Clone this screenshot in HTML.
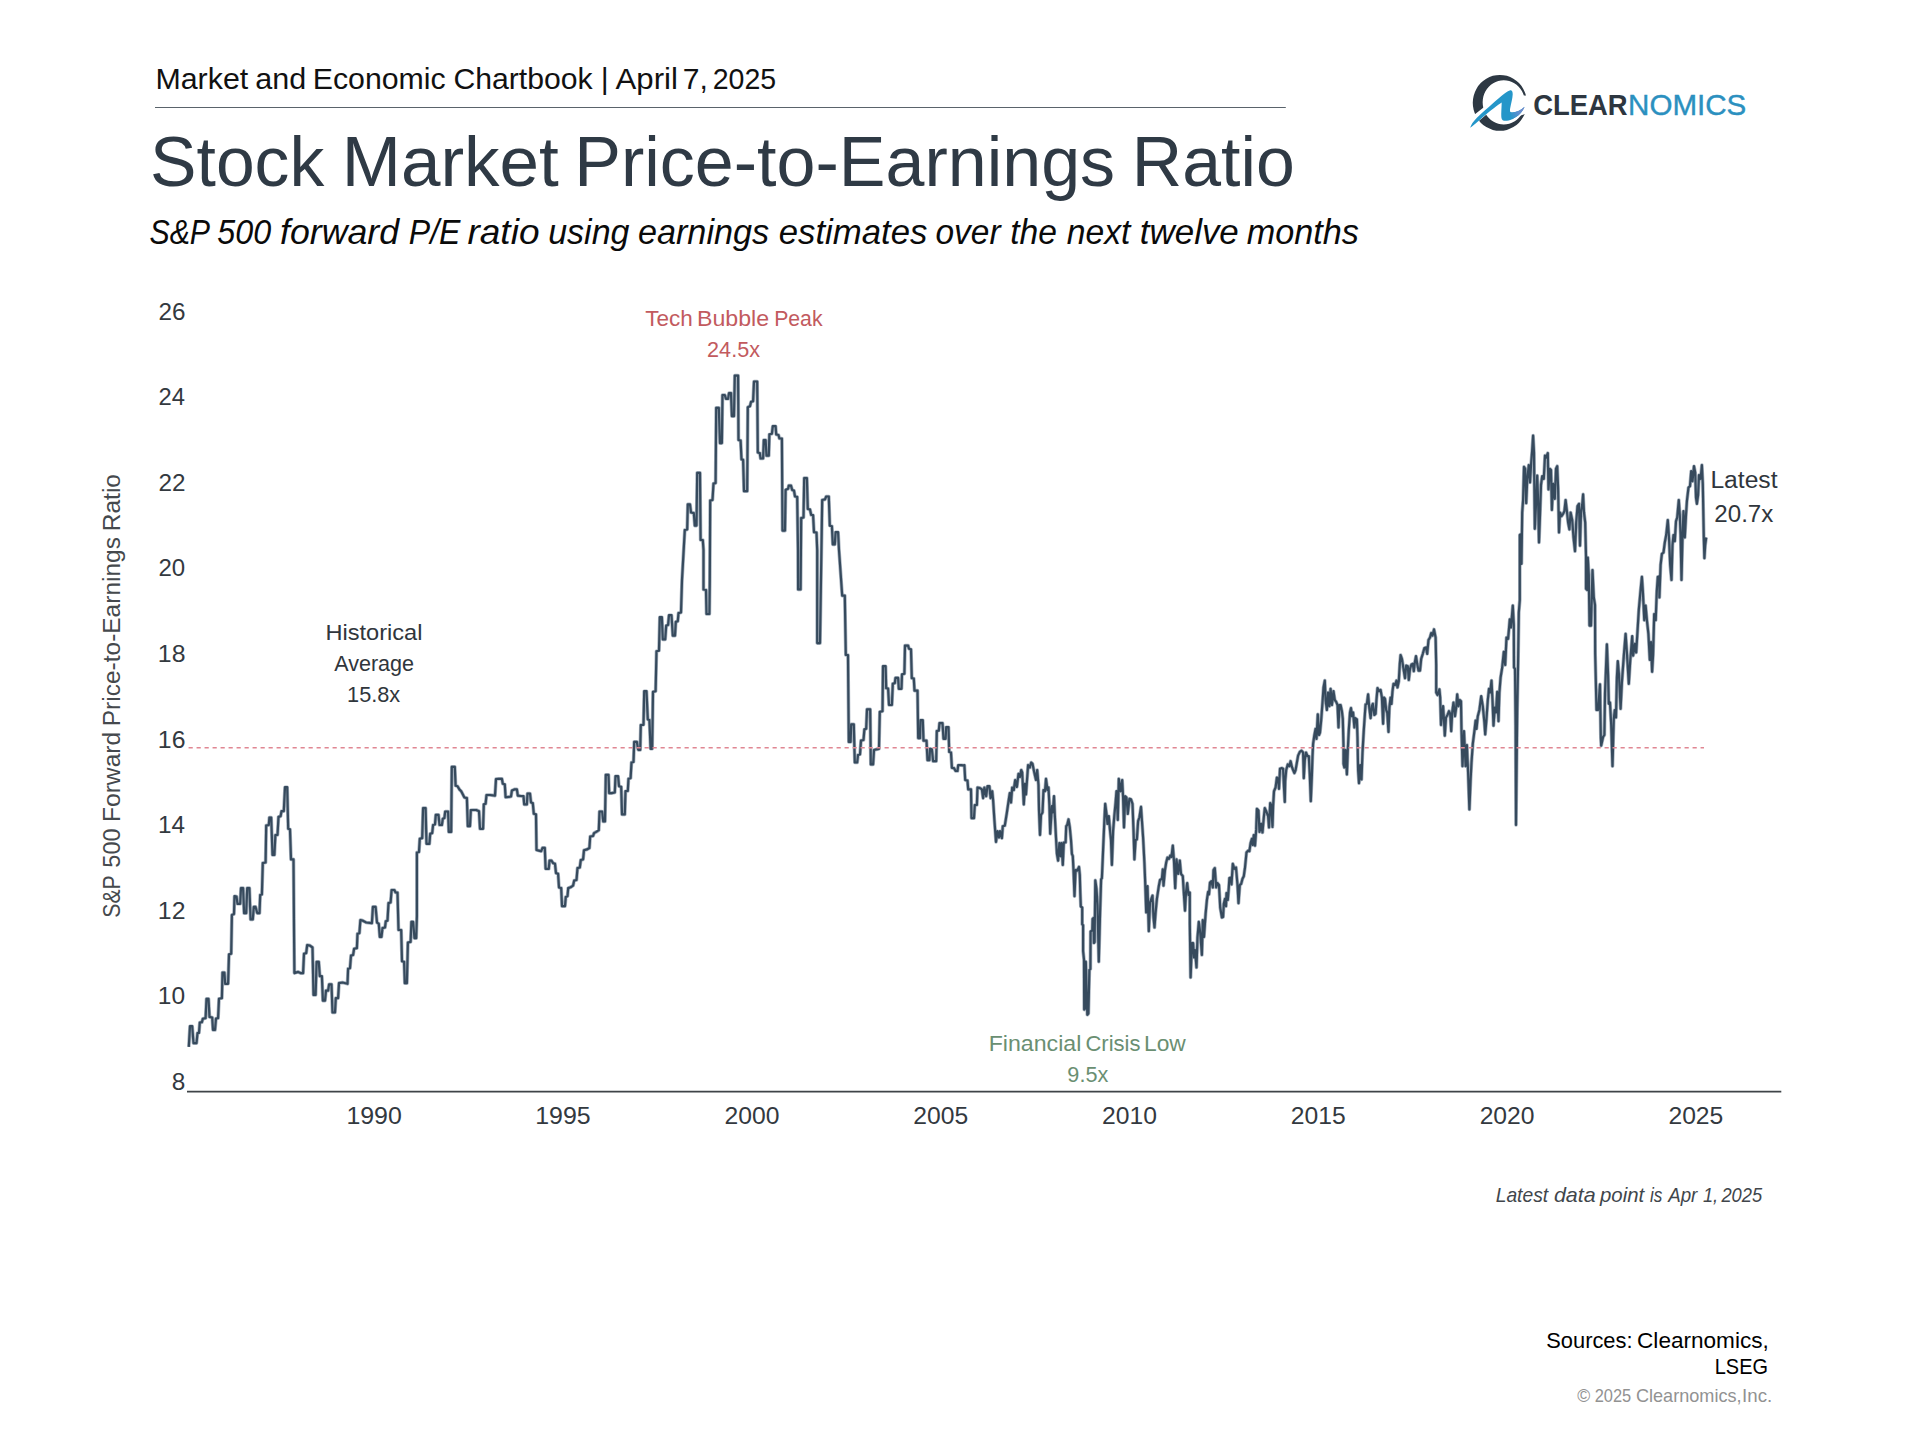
<!DOCTYPE html>
<html lang="en">
<head>
<meta charset="utf-8">
<title>Stock Market Price-to-Earnings Ratio</title>
<style>
html,body{margin:0;padding:0;background:#ffffff;}
body{width:1920px;height:1440px;overflow:hidden;position:relative;font-family:'Liberation Sans', sans-serif;}
svg{position:absolute;left:0;top:0;display:block;}
svg text{font-family:'Liberation Sans', sans-serif;white-space:pre;}
</style>
</head>
<body>
<svg width="1920" height="1440" viewBox="0 0 1920 1440">
<rect x="0" y="0" width="1920" height="1440" fill="#ffffff"/>
<!-- header rule -->
<line x1="155" y1="107.5" x2="1285.8" y2="107.5" stroke="#5a636b" stroke-width="1"/>
<!-- logo -->
<g transform="translate(1460,65) scale(0.0520833)">
<defs>
<linearGradient id="lg1" gradientUnits="userSpaceOnUse" x1="950" y1="950" x2="1240" y2="820"><stop offset="0" stop-color="#2496c9"/><stop offset="0.55" stop-color="#5f8fd0"/><stop offset="1" stop-color="#7c86c8"/></linearGradient>
<clipPath id="lc1"><path d="M0,0 H1536 V1440 H0 Z M120,1075 L470,800 L560,905 L200,1210 Z M1200,588 L1536,580 L1536,845 L1150,973 Z" clip-rule="evenodd"/></clipPath>
</defs>
<path fill="#2d3843" fill-rule="evenodd" clip-path="url(#lc1)" d="M765,190 A520,537 0 1 0 765.1,190 Z M840,292 A405,425 0 1 1 839.9,292 Z"/>
<path fill="#2496c9" d="M195,1205 C215,1150 250,1090 320,1020 C450,890 640,730 800,590 C860,540 910,500 955,488 C995,478 1012,510 1012,560 C1010,640 975,760 960,850 C955,895 965,910 1000,912 C1080,905 1160,870 1240,800 C1200,900 1120,985 1000,1040 C930,1070 860,1085 820,1060 C795,1040 792,1000 792,940 C794,860 800,780 800,720 C740,760 560,890 440,1000 C340,1090 250,1170 195,1205 Z"/>
<path fill="url(#lg1)" d="M965,905 C975,912 985,913 1000,912 C1080,905 1160,870 1240,800 C1200,900 1120,985 1000,1040 C980,1000 965,950 965,905 Z"/>
</g>

<!-- x axis -->
<line x1="187" y1="1091.6" x2="1781.3" y2="1091.6" stroke="#3f4448" stroke-width="1.6"/>
<!-- data line -->
<polyline fill="none" stroke="#4f667e" stroke-opacity="0.5" stroke-width="3.6" stroke-linejoin="round" points="188.8,1046.9 190.0,1026.2 192.2,1026.2 193.5,1043.1 196.5,1043.1 197.5,1033.1 199.0,1032.8 199.8,1022.5 201.9,1022.2 202.8,1018.8 205.6,1018.1 206.5,998.8 208.5,998.8 209.5,1016.9 212.2,1017.5 213.0,1030.0 215.0,1030.0 216.0,1018.5 218.1,1018.1 219.0,998.8 221.9,998.1 222.5,972.5 224.4,972.5 225.2,983.8 228.1,983.8 229.0,954.4 231.2,953.8 231.9,915.0 234.0,914.0 234.5,896.2 234.8,896.2 236.5,896.5 237.5,903.8 240.2,903.8 241.0,888.1 243.1,888.1 244.1,913.1 246.2,913.1 247.2,888.1 249.4,888.1 250.6,919.4 252.8,919.4 253.8,906.9 255.6,906.9 257.2,913.1 259.5,913.1 260.2,895.0 261.9,894.4 262.8,863.1 265.6,862.5 266.2,825.6 268.8,825.0 269.4,817.5 271.2,817.5 272.5,855.0 274.4,855.0 275.4,835.0 277.5,835.0 278.5,816.9 280.6,816.2 281.5,811.2 283.8,811.2 285.0,787.2 287.2,787.2 288.2,828.8 290.0,829.4 291.0,859.4 293.5,859.4 294.1,940.0 294.4,973.1 298.1,971.9 300.6,973.1 303.1,973.1 304.0,953.8 306.2,953.1 307.2,945.0 310.0,945.6 312.5,947.5 313.5,995.0 315.6,995.0 316.6,961.9 318.8,961.9 319.8,976.2 321.9,976.2 322.9,1000.6 325.0,1000.6 326.0,990.6 328.1,990.6 329.1,984.4 331.5,984.4 332.5,1012.5 335.0,1012.5 335.8,998.1 338.1,998.1 339.0,983.1 342.5,982.5 347.5,983.8 348.1,968.8 350.0,968.1 351.0,955.6 353.1,955.0 354.1,948.8 356.9,948.1 357.5,933.8 359.4,933.1 360.4,920.0 362.5,920.6 366.2,922.5 371.9,923.1 372.9,906.9 375.6,906.9 377.0,922.5 378.8,923.8 379.8,936.9 381.5,936.9 382.5,928.1 385.0,927.5 385.8,921.2 387.5,920.6 388.5,903.1 390.6,902.5 391.6,890.0 394.4,890.0 395.6,892.5 397.5,892.5 398.5,930.0 401.2,930.0 402.0,961.2 404.1,961.9 404.8,983.1 406.9,983.1 407.9,942.5 410.6,941.9 411.4,921.9 413.1,921.9 414.5,938.1 416.2,938.1 416.9,916.2 416.9,852.5 419.0,851.9 419.8,838.8 422.2,838.1 423.1,808.1 425.6,808.1 426.5,843.8 429.4,843.8 430.2,833.8 432.2,833.1 433.1,825.0 435.0,824.4 435.8,814.8 438.5,814.8 439.5,825.0 441.9,825.0 442.8,818.8 444.4,818.1 445.2,811.5 448.1,811.5 448.8,831.9 451.2,831.9 451.8,766.9 454.8,766.9 455.6,785.6 457.5,786.2 459.4,789.4 461.2,791.2 462.5,793.8 464.4,797.5 466.9,798.1 467.8,826.2 470.0,826.2 470.8,810.2 473.1,810.0 476.2,810.0 479.0,811.2 480.0,828.8 483.1,828.8 483.8,804.4 485.6,803.8 486.5,795.0 490.0,795.0 495.0,795.6 496.0,779.0 498.8,778.8 501.9,778.8 502.8,783.8 504.8,784.4 505.6,797.2 508.8,796.9 511.0,796.5 511.9,790.6 514.4,789.4 516.9,789.4 517.8,795.6 520.6,796.0 523.5,796.2 524.2,804.4 526.9,804.4 527.5,793.5 530.0,793.5 531.0,802.5 532.8,803.1 533.8,813.8 536.0,814.4 536.5,850.0 538.8,850.6 541.2,851.2 542.5,847.8 544.8,847.8 545.6,868.8 548.8,868.8 549.5,860.6 551.5,860.6 553.1,863.1 555.0,863.8 556.0,873.1 558.1,873.8 559.0,887.5 561.2,888.1 562.0,906.2 565.0,906.2 565.8,896.9 567.5,896.2 568.2,888.1 570.6,887.2 573.1,885.6 574.2,880.6 576.5,880.0 577.5,868.1 579.8,867.5 580.8,860.0 583.1,859.4 584.0,850.2 586.9,849.4 589.4,848.1 590.2,836.5 593.1,836.0 594.0,833.1 596.2,831.9 598.8,830.2 599.5,811.5 602.2,811.5 603.2,821.5 605.0,821.5 605.8,774.8 608.5,774.8 609.2,793.1 611.9,793.1 614.8,792.5 615.5,776.2 618.1,776.2 619.0,786.2 621.2,786.9 622.0,814.4 624.8,814.4 625.5,791.2 627.8,791.0 628.5,778.8 630.6,778.1 631.5,762.5 633.5,761.9 634.2,741.9 636.9,741.9 638.1,749.4 638.5,750.0 640.2,750.0 640.8,725.0 643.5,724.8 644.2,691.2 646.5,691.2 647.8,719.4 649.4,720.0 650.6,748.8 652.2,748.8 653.0,691.9 655.6,691.2 656.5,651.2 659.0,650.6 659.8,617.2 661.9,617.2 662.8,639.4 665.2,639.4 666.2,625.6 668.1,625.0 669.0,615.2 671.5,615.2 672.8,635.6 675.0,635.6 675.8,621.9 677.8,621.2 678.5,613.1 681.0,612.5 682.0,580.0 684.8,530.0 687.2,529.4 687.8,504.4 690.0,504.4 691.0,512.5 693.8,513.1 694.8,525.6 696.5,525.6 697.2,472.8 700.0,472.8 700.6,540.0 702.8,540.0 703.5,550.0 703.5,589.4 706.0,590.0 706.5,614.0 709.4,614.0 709.8,580.0 710.2,500.6 712.5,500.0 713.5,483.5 715.6,483.1 716.2,407.8 718.8,407.8 720.0,443.1 721.9,443.1 722.5,395.0 724.8,395.0 726.0,398.8 728.1,398.8 729.0,393.1 731.0,393.1 731.9,416.2 734.0,416.2 734.8,375.6 738.1,375.6 738.5,440.0 740.6,440.6 741.5,459.4 743.1,459.8 744.0,491.2 747.2,491.2 747.8,407.2 750.0,406.2 751.0,401.9 753.1,401.2 754.0,381.5 757.2,381.5 757.8,452.5 759.8,453.1 760.6,458.5 763.1,458.5 763.8,440.0 765.6,440.0 766.5,455.6 768.8,455.6 769.4,434.4 771.9,433.8 772.8,426.2 775.6,426.2 776.2,434.4 778.5,435.0 779.4,438.5 781.9,438.5 782.5,530.6 785.0,530.6 785.6,489.8 788.1,488.8 788.8,485.6 791.0,485.6 792.2,490.0 794.0,490.6 795.0,496.5 797.2,496.9 798.0,550.0 798.1,589.4 800.6,589.4 801.2,518.1 803.5,517.5 804.2,478.1 806.9,478.1 807.8,509.0 810.0,509.4 811.2,515.0 813.1,515.2 814.0,532.2 816.5,532.5 817.2,550.0 817.2,643.1 820.0,643.1 822.2,500.0 825.0,499.4 826.2,496.5 828.8,496.5 829.8,525.6 831.9,526.2 832.8,544.4 834.8,544.4 835.6,532.2 838.1,532.2 839.0,550.0 842.2,595.6 844.8,595.6 845.8,655.0 848.0,655.0 848.8,741.9 850.6,741.9 851.2,724.4 853.8,724.4 854.8,762.5 857.2,762.5 858.0,755.0 860.0,754.4 861.0,740.6 863.5,740.0 864.4,729.4 866.2,728.8 867.0,709.4 870.2,709.4 870.8,764.4 873.1,764.4 874.0,750.0 876.2,749.4 879.0,748.8 879.8,711.9 882.5,711.2 883.0,666.2 885.6,666.2 886.2,688.1 888.1,688.5 889.0,705.0 891.9,705.0 892.8,683.8 894.8,683.1 895.5,677.8 898.1,677.8 898.8,688.8 901.5,688.8 902.0,674.4 904.4,673.8 905.0,645.6 908.1,645.6 909.0,648.8 911.0,649.4 911.8,678.1 913.8,678.5 914.5,690.6 917.5,690.6 918.2,738.1 920.0,738.1 920.5,720.2 922.8,720.2 923.5,740.6 926.5,740.6 927.5,760.2 929.4,760.2 930.0,748.8 931.9,749.4 933.1,761.2 936.2,761.2 936.8,731.0 938.8,730.6 939.5,723.1 942.5,723.1 943.5,738.8 945.6,738.8 946.2,727.2 948.5,727.2 949.2,751.9 951.0,752.5 951.9,767.8 954.0,768.1 955.6,771.0 957.5,771.0 958.2,765.2 961.2,765.2 964.4,765.6 964.4,765.2 965.2,780.0 967.5,780.6 968.2,789.4 971.0,789.4 971.5,818.1 974.0,818.1 974.8,805.0 976.9,805.0 977.5,787.5 980.0,788.1 981.9,789.4 983.1,798.1 984.4,787.5 986.2,796.2 987.5,786.2 989.4,786.2 990.6,798.1 992.2,791.2 993.1,800.0 994.4,820.0 996.0,841.9 997.5,831.2 999.0,837.5 1000.0,831.2 1001.9,838.1 1002.8,826.2 1004.8,825.6 1006.9,812.5 1008.8,799.4 1009.8,793.1 1011.0,802.5 1012.2,787.5 1013.8,790.0 1015.2,780.0 1016.9,786.9 1018.5,773.8 1020.0,776.9 1021.2,770.0 1022.2,772.5 1023.8,804.4 1025.0,783.8 1026.0,794.4 1028.1,765.0 1029.8,767.5 1031.2,762.5 1032.5,763.8 1034.4,773.1 1036.0,780.0 1037.2,770.0 1038.5,785.0 1039.0,810.0 1040.0,835.0 1041.0,815.0 1042.5,812.5 1043.5,790.0 1045.0,791.2 1046.0,778.8 1047.5,790.0 1048.5,787.5 1049.4,805.0 1050.2,833.8 1051.9,806.2 1052.8,812.5 1054.0,796.2 1054.8,815.0 1056.0,837.5 1056.9,853.8 1058.1,860.6 1059.4,843.1 1060.6,856.2 1061.5,843.1 1062.8,865.0 1063.8,842.5 1065.6,842.5 1066.2,826.2 1067.2,825.0 1068.5,819.4 1069.8,827.5 1071.0,840.0 1071.9,853.8 1072.8,856.2 1073.5,870.0 1074.5,896.2 1075.6,870.0 1077.2,870.6 1079.0,866.9 1079.8,875.0 1080.3,893.0 1080.8,906.5 1082.2,907.5 1082.2,924.2 1083.1,925.2 1083.1,951.0 1084.0,959.6 1084.2,1009.6 1085.2,1008.5 1085.8,961.7 1087.3,1014.8 1088.4,1013.5 1089.4,970.0 1090.4,969.0 1090.6,931.5 1092.3,930.4 1092.6,919.0 1093.5,918.0 1093.9,943.0 1094.6,942.0 1095.3,880.4 1096.5,888.8 1097.5,905.0 1098.8,961.7 1100.1,911.7 1101.1,879.4 1101.9,878.1 1103.1,850.0 1104.4,820.0 1105.2,803.8 1106.5,813.8 1107.5,823.8 1108.8,816.2 1110.0,830.0 1111.0,840.0 1111.9,865.0 1113.1,831.2 1114.4,815.0 1115.6,802.5 1116.5,791.2 1117.8,820.0 1118.8,778.8 1120.6,791.2 1122.2,780.0 1123.1,797.5 1124.0,827.5 1125.2,796.2 1126.5,797.5 1127.8,813.8 1129.4,798.8 1131.0,799.4 1132.5,803.8 1133.5,830.0 1134.4,859.4 1135.6,840.0 1136.9,839.4 1138.1,821.2 1139.4,817.5 1141.0,806.9 1141.9,820.0 1143.1,837.5 1144.4,862.5 1145.2,882.5 1146.2,912.5 1147.5,886.2 1148.8,931.2 1150.0,902.5 1152.5,895.6 1153.5,917.5 1154.5,927.5 1155.6,912.5 1156.9,898.8 1158.8,886.2 1160.0,880.0 1161.9,878.8 1162.8,869.4 1163.5,885.6 1165.0,870.0 1166.2,862.5 1167.5,857.5 1169.0,858.8 1170.2,855.6 1171.5,856.9 1172.8,845.6 1174.0,861.2 1175.2,888.1 1176.5,859.4 1178.1,873.8 1179.8,860.6 1181.0,873.8 1182.8,876.2 1183.8,892.5 1185.0,910.6 1186.0,892.5 1187.2,883.1 1188.5,895.0 1189.8,892.5 1189.8,923.8 1190.6,977.5 1191.9,943.1 1193.1,943.1 1194.0,957.5 1195.0,950.0 1196.5,967.5 1197.5,937.5 1198.8,921.9 1200.2,932.5 1201.9,955.0 1202.8,920.0 1204.0,936.9 1205.6,913.8 1206.9,900.0 1208.1,891.9 1209.0,894.4 1210.0,882.5 1211.5,881.2 1212.8,887.5 1213.5,870.0 1214.8,868.1 1216.2,887.5 1217.5,883.1 1219.0,885.0 1220.2,907.5 1221.9,917.5 1223.1,916.9 1223.8,903.8 1225.0,898.8 1226.0,906.2 1226.5,893.1 1227.8,900.0 1228.8,887.5 1229.4,878.1 1231.0,877.5 1231.5,884.4 1232.8,863.8 1234.4,868.8 1236.0,867.5 1237.5,885.0 1238.5,903.1 1239.8,885.0 1241.2,883.8 1242.5,878.8 1243.8,876.2 1245.0,867.5 1246.5,852.5 1248.1,850.6 1249.4,851.2 1250.6,843.1 1251.9,838.8 1252.8,845.0 1253.8,835.0 1255.0,845.6 1256.2,829.4 1256.9,808.8 1258.5,810.6 1259.5,831.9 1261.0,823.8 1262.5,832.5 1263.8,817.5 1264.8,808.1 1266.2,811.2 1268.1,816.2 1269.0,827.5 1270.2,803.1 1271.2,805.0 1272.5,826.9 1273.1,806.2 1274.0,791.2 1275.6,787.5 1276.9,777.5 1278.1,778.8 1279.0,788.8 1280.0,768.8 1281.9,768.1 1283.1,768.8 1284.0,787.5 1284.8,801.9 1285.2,781.2 1286.2,770.0 1287.8,764.4 1289.4,766.2 1290.6,761.2 1291.9,766.9 1293.1,770.0 1294.4,773.1 1295.6,770.0 1296.9,762.5 1298.1,755.6 1299.8,751.9 1301.5,750.6 1303.1,752.5 1303.8,778.1 1304.8,760.0 1306.0,752.5 1307.5,756.2 1308.8,756.2 1309.8,775.0 1310.8,801.2 1311.9,775.0 1312.5,756.2 1313.1,743.8 1314.4,735.0 1315.6,728.8 1316.5,738.8 1317.8,714.4 1319.0,735.0 1320.0,732.5 1321.2,720.0 1322.5,702.5 1323.5,687.5 1324.8,680.6 1325.6,700.0 1326.9,710.0 1328.1,692.5 1329.4,706.2 1330.6,688.8 1331.9,705.0 1333.5,691.2 1334.8,700.0 1336.2,701.9 1337.5,705.0 1338.5,727.5 1339.4,705.0 1340.6,705.0 1341.9,711.2 1342.8,718.8 1343.5,745.0 1343.5,763.8 1344.4,767.5 1345.6,750.0 1346.9,774.4 1347.8,750.0 1348.8,730.0 1350.0,712.5 1351.0,708.1 1351.9,716.2 1353.1,712.5 1354.4,727.5 1355.2,718.1 1356.9,719.4 1357.5,737.5 1358.1,770.0 1359.0,783.1 1360.2,765.0 1361.5,779.4 1362.5,752.5 1363.8,730.0 1365.0,712.5 1365.6,704.4 1366.9,703.8 1368.1,694.4 1369.4,708.8 1370.6,718.1 1371.9,706.2 1372.8,703.8 1374.4,715.0 1375.6,713.8 1376.5,699.4 1377.5,688.1 1379.0,691.2 1380.6,690.0 1381.9,697.5 1383.1,723.8 1384.0,697.5 1385.0,698.8 1386.2,710.0 1387.2,712.5 1388.5,731.9 1389.4,707.5 1390.6,697.5 1391.5,703.8 1392.5,691.2 1393.5,683.8 1395.0,685.0 1396.5,680.6 1397.5,687.5 1398.8,681.2 1399.8,663.8 1400.6,655.0 1401.9,658.8 1403.1,666.2 1405.0,678.1 1406.2,665.6 1407.8,666.2 1408.8,680.0 1410.0,668.8 1411.5,664.4 1412.8,663.8 1413.8,671.2 1414.8,662.5 1416.0,656.2 1417.2,663.8 1418.5,670.6 1420.0,670.6 1421.2,658.8 1422.8,653.8 1424.4,648.1 1426.0,647.5 1427.2,653.8 1428.5,640.0 1430.0,637.5 1431.2,633.1 1432.5,635.6 1434.0,629.4 1435.6,637.5 1436.2,665.0 1436.2,692.5 1437.5,695.0 1439.4,689.4 1440.2,697.5 1441.0,725.0 1443.1,706.2 1444.0,720.0 1444.8,735.6 1446.0,717.5 1447.5,715.0 1449.0,711.2 1450.2,713.8 1451.2,731.2 1452.2,712.5 1453.5,702.5 1455.0,716.2 1456.2,707.5 1457.2,694.4 1458.5,706.2 1459.8,700.0 1461.0,701.2 1461.5,731.2 1462.5,766.2 1464.0,731.2 1465.6,766.2 1466.9,745.0 1468.1,772.5 1469.4,809.4 1470.6,780.0 1471.5,762.5 1472.8,743.8 1474.4,731.2 1475.6,720.6 1476.5,728.8 1477.8,716.2 1479.4,710.0 1481.2,696.2 1482.8,706.2 1484.4,722.5 1485.2,734.4 1486.5,718.8 1487.8,700.0 1489.0,688.8 1490.2,692.5 1491.5,680.6 1492.5,700.0 1493.5,725.6 1494.8,707.5 1496.0,712.5 1497.2,691.9 1498.5,721.2 1499.4,692.5 1500.6,677.5 1502.2,667.5 1503.8,651.9 1505.2,665.0 1506.5,637.5 1508.1,638.8 1509.8,619.4 1511.0,627.5 1512.8,605.6 1513.8,625.0 1514.0,667.5 1515.0,668.8 1515.6,725.0 1516.0,825.0 1517.2,712.5 1518.1,662.5 1518.8,612.5 1519.8,600.0 1519.8,562.5 1519.8,535.0 1521.5,533.8 1521.5,563.8 1522.2,512.5 1523.1,500.0 1524.0,466.9 1525.2,468.8 1526.2,503.1 1527.2,480.0 1528.8,465.0 1530.0,482.5 1531.2,462.5 1532.2,450.0 1533.1,435.6 1534.0,452.5 1534.8,528.8 1536.0,505.0 1537.2,475.6 1538.1,500.0 1539.0,542.5 1540.0,515.0 1541.0,485.0 1542.2,476.2 1543.8,478.8 1545.0,455.6 1546.2,457.5 1547.8,453.1 1548.5,489.4 1549.8,468.8 1551.0,470.0 1551.9,510.0 1553.1,483.8 1554.8,498.8 1556.0,468.8 1557.2,466.2 1558.1,487.5 1559.0,532.5 1560.0,512.5 1561.5,516.2 1563.1,513.8 1564.4,511.2 1565.6,500.0 1566.9,511.2 1568.1,522.5 1569.4,529.4 1570.6,512.5 1572.2,520.0 1573.5,537.5 1575.0,551.2 1576.2,522.5 1577.5,506.2 1579.0,503.8 1580.0,545.6 1581.0,512.5 1582.2,505.0 1583.1,494.4 1584.0,512.5 1585.2,522.5 1586.0,556.2 1586.0,588.8 1587.2,590.0 1587.8,557.5 1588.8,575.0 1589.5,625.6 1591.0,625.6 1592.5,570.0 1593.8,597.5 1595.0,605.0 1595.2,653.8 1596.5,710.0 1598.1,710.0 1600.0,684.4 1600.8,737.5 1601.2,745.6 1603.1,736.9 1604.4,735.0 1605.0,693.8 1606.9,644.4 1608.1,675.0 1608.8,703.8 1610.0,702.5 1611.2,725.0 1612.5,766.2 1613.8,718.8 1614.8,710.0 1616.0,717.5 1616.9,677.5 1617.8,661.2 1619.0,675.0 1620.6,708.8 1621.9,682.5 1623.8,656.2 1625.6,633.8 1626.9,652.5 1628.8,683.8 1630.2,661.2 1632.2,636.2 1633.1,655.6 1635.0,643.8 1636.2,652.5 1637.5,631.2 1638.8,610.0 1640.6,590.0 1641.9,576.9 1642.9,592.1 1644.3,620.2 1645.6,605.6 1646.9,620.2 1648.4,633.8 1649.8,659.8 1651.0,642.1 1652.1,671.8 1653.1,654.6 1654.2,614.0 1655.7,620.2 1656.8,591.0 1657.8,576.9 1659.4,576.2 1659.4,597.5 1660.6,565.0 1661.9,553.8 1663.5,552.5 1664.8,542.5 1666.2,535.0 1667.8,520.0 1669.0,537.5 1670.2,565.0 1671.5,580.0 1672.5,545.0 1673.5,535.0 1674.8,541.2 1676.0,521.2 1677.2,517.5 1678.8,500.0 1679.8,515.0 1680.6,535.0 1681.5,580.0 1682.5,537.5 1683.5,511.2 1684.8,537.5 1686.0,515.0 1686.9,501.2 1688.5,487.5 1690.0,486.2 1691.2,471.2 1692.5,481.2 1694.0,466.2 1695.2,472.5 1696.0,497.5 1696.9,503.8 1698.1,495.0 1699.0,475.0 1700.6,478.8 1701.9,465.0 1702.8,483.8 1703.8,537.5 1704.4,558.1 1705.2,545.0 1706.2,537.5"/>
<polyline fill="none" stroke="#364a5d" stroke-width="2.2" stroke-linejoin="round" points="188.8,1046.9 190.0,1026.2 192.2,1026.2 193.5,1043.1 196.5,1043.1 197.5,1033.1 199.0,1032.8 199.8,1022.5 201.9,1022.2 202.8,1018.8 205.6,1018.1 206.5,998.8 208.5,998.8 209.5,1016.9 212.2,1017.5 213.0,1030.0 215.0,1030.0 216.0,1018.5 218.1,1018.1 219.0,998.8 221.9,998.1 222.5,972.5 224.4,972.5 225.2,983.8 228.1,983.8 229.0,954.4 231.2,953.8 231.9,915.0 234.0,914.0 234.5,896.2 234.8,896.2 236.5,896.5 237.5,903.8 240.2,903.8 241.0,888.1 243.1,888.1 244.1,913.1 246.2,913.1 247.2,888.1 249.4,888.1 250.6,919.4 252.8,919.4 253.8,906.9 255.6,906.9 257.2,913.1 259.5,913.1 260.2,895.0 261.9,894.4 262.8,863.1 265.6,862.5 266.2,825.6 268.8,825.0 269.4,817.5 271.2,817.5 272.5,855.0 274.4,855.0 275.4,835.0 277.5,835.0 278.5,816.9 280.6,816.2 281.5,811.2 283.8,811.2 285.0,787.2 287.2,787.2 288.2,828.8 290.0,829.4 291.0,859.4 293.5,859.4 294.1,940.0 294.4,973.1 298.1,971.9 300.6,973.1 303.1,973.1 304.0,953.8 306.2,953.1 307.2,945.0 310.0,945.6 312.5,947.5 313.5,995.0 315.6,995.0 316.6,961.9 318.8,961.9 319.8,976.2 321.9,976.2 322.9,1000.6 325.0,1000.6 326.0,990.6 328.1,990.6 329.1,984.4 331.5,984.4 332.5,1012.5 335.0,1012.5 335.8,998.1 338.1,998.1 339.0,983.1 342.5,982.5 347.5,983.8 348.1,968.8 350.0,968.1 351.0,955.6 353.1,955.0 354.1,948.8 356.9,948.1 357.5,933.8 359.4,933.1 360.4,920.0 362.5,920.6 366.2,922.5 371.9,923.1 372.9,906.9 375.6,906.9 377.0,922.5 378.8,923.8 379.8,936.9 381.5,936.9 382.5,928.1 385.0,927.5 385.8,921.2 387.5,920.6 388.5,903.1 390.6,902.5 391.6,890.0 394.4,890.0 395.6,892.5 397.5,892.5 398.5,930.0 401.2,930.0 402.0,961.2 404.1,961.9 404.8,983.1 406.9,983.1 407.9,942.5 410.6,941.9 411.4,921.9 413.1,921.9 414.5,938.1 416.2,938.1 416.9,916.2 416.9,852.5 419.0,851.9 419.8,838.8 422.2,838.1 423.1,808.1 425.6,808.1 426.5,843.8 429.4,843.8 430.2,833.8 432.2,833.1 433.1,825.0 435.0,824.4 435.8,814.8 438.5,814.8 439.5,825.0 441.9,825.0 442.8,818.8 444.4,818.1 445.2,811.5 448.1,811.5 448.8,831.9 451.2,831.9 451.8,766.9 454.8,766.9 455.6,785.6 457.5,786.2 459.4,789.4 461.2,791.2 462.5,793.8 464.4,797.5 466.9,798.1 467.8,826.2 470.0,826.2 470.8,810.2 473.1,810.0 476.2,810.0 479.0,811.2 480.0,828.8 483.1,828.8 483.8,804.4 485.6,803.8 486.5,795.0 490.0,795.0 495.0,795.6 496.0,779.0 498.8,778.8 501.9,778.8 502.8,783.8 504.8,784.4 505.6,797.2 508.8,796.9 511.0,796.5 511.9,790.6 514.4,789.4 516.9,789.4 517.8,795.6 520.6,796.0 523.5,796.2 524.2,804.4 526.9,804.4 527.5,793.5 530.0,793.5 531.0,802.5 532.8,803.1 533.8,813.8 536.0,814.4 536.5,850.0 538.8,850.6 541.2,851.2 542.5,847.8 544.8,847.8 545.6,868.8 548.8,868.8 549.5,860.6 551.5,860.6 553.1,863.1 555.0,863.8 556.0,873.1 558.1,873.8 559.0,887.5 561.2,888.1 562.0,906.2 565.0,906.2 565.8,896.9 567.5,896.2 568.2,888.1 570.6,887.2 573.1,885.6 574.2,880.6 576.5,880.0 577.5,868.1 579.8,867.5 580.8,860.0 583.1,859.4 584.0,850.2 586.9,849.4 589.4,848.1 590.2,836.5 593.1,836.0 594.0,833.1 596.2,831.9 598.8,830.2 599.5,811.5 602.2,811.5 603.2,821.5 605.0,821.5 605.8,774.8 608.5,774.8 609.2,793.1 611.9,793.1 614.8,792.5 615.5,776.2 618.1,776.2 619.0,786.2 621.2,786.9 622.0,814.4 624.8,814.4 625.5,791.2 627.8,791.0 628.5,778.8 630.6,778.1 631.5,762.5 633.5,761.9 634.2,741.9 636.9,741.9 638.1,749.4 638.5,750.0 640.2,750.0 640.8,725.0 643.5,724.8 644.2,691.2 646.5,691.2 647.8,719.4 649.4,720.0 650.6,748.8 652.2,748.8 653.0,691.9 655.6,691.2 656.5,651.2 659.0,650.6 659.8,617.2 661.9,617.2 662.8,639.4 665.2,639.4 666.2,625.6 668.1,625.0 669.0,615.2 671.5,615.2 672.8,635.6 675.0,635.6 675.8,621.9 677.8,621.2 678.5,613.1 681.0,612.5 682.0,580.0 684.8,530.0 687.2,529.4 687.8,504.4 690.0,504.4 691.0,512.5 693.8,513.1 694.8,525.6 696.5,525.6 697.2,472.8 700.0,472.8 700.6,540.0 702.8,540.0 703.5,550.0 703.5,589.4 706.0,590.0 706.5,614.0 709.4,614.0 709.8,580.0 710.2,500.6 712.5,500.0 713.5,483.5 715.6,483.1 716.2,407.8 718.8,407.8 720.0,443.1 721.9,443.1 722.5,395.0 724.8,395.0 726.0,398.8 728.1,398.8 729.0,393.1 731.0,393.1 731.9,416.2 734.0,416.2 734.8,375.6 738.1,375.6 738.5,440.0 740.6,440.6 741.5,459.4 743.1,459.8 744.0,491.2 747.2,491.2 747.8,407.2 750.0,406.2 751.0,401.9 753.1,401.2 754.0,381.5 757.2,381.5 757.8,452.5 759.8,453.1 760.6,458.5 763.1,458.5 763.8,440.0 765.6,440.0 766.5,455.6 768.8,455.6 769.4,434.4 771.9,433.8 772.8,426.2 775.6,426.2 776.2,434.4 778.5,435.0 779.4,438.5 781.9,438.5 782.5,530.6 785.0,530.6 785.6,489.8 788.1,488.8 788.8,485.6 791.0,485.6 792.2,490.0 794.0,490.6 795.0,496.5 797.2,496.9 798.0,550.0 798.1,589.4 800.6,589.4 801.2,518.1 803.5,517.5 804.2,478.1 806.9,478.1 807.8,509.0 810.0,509.4 811.2,515.0 813.1,515.2 814.0,532.2 816.5,532.5 817.2,550.0 817.2,643.1 820.0,643.1 822.2,500.0 825.0,499.4 826.2,496.5 828.8,496.5 829.8,525.6 831.9,526.2 832.8,544.4 834.8,544.4 835.6,532.2 838.1,532.2 839.0,550.0 842.2,595.6 844.8,595.6 845.8,655.0 848.0,655.0 848.8,741.9 850.6,741.9 851.2,724.4 853.8,724.4 854.8,762.5 857.2,762.5 858.0,755.0 860.0,754.4 861.0,740.6 863.5,740.0 864.4,729.4 866.2,728.8 867.0,709.4 870.2,709.4 870.8,764.4 873.1,764.4 874.0,750.0 876.2,749.4 879.0,748.8 879.8,711.9 882.5,711.2 883.0,666.2 885.6,666.2 886.2,688.1 888.1,688.5 889.0,705.0 891.9,705.0 892.8,683.8 894.8,683.1 895.5,677.8 898.1,677.8 898.8,688.8 901.5,688.8 902.0,674.4 904.4,673.8 905.0,645.6 908.1,645.6 909.0,648.8 911.0,649.4 911.8,678.1 913.8,678.5 914.5,690.6 917.5,690.6 918.2,738.1 920.0,738.1 920.5,720.2 922.8,720.2 923.5,740.6 926.5,740.6 927.5,760.2 929.4,760.2 930.0,748.8 931.9,749.4 933.1,761.2 936.2,761.2 936.8,731.0 938.8,730.6 939.5,723.1 942.5,723.1 943.5,738.8 945.6,738.8 946.2,727.2 948.5,727.2 949.2,751.9 951.0,752.5 951.9,767.8 954.0,768.1 955.6,771.0 957.5,771.0 958.2,765.2 961.2,765.2 964.4,765.6 964.4,765.2 965.2,780.0 967.5,780.6 968.2,789.4 971.0,789.4 971.5,818.1 974.0,818.1 974.8,805.0 976.9,805.0 977.5,787.5 980.0,788.1 981.9,789.4 983.1,798.1 984.4,787.5 986.2,796.2 987.5,786.2 989.4,786.2 990.6,798.1 992.2,791.2 993.1,800.0 994.4,820.0 996.0,841.9 997.5,831.2 999.0,837.5 1000.0,831.2 1001.9,838.1 1002.8,826.2 1004.8,825.6 1006.9,812.5 1008.8,799.4 1009.8,793.1 1011.0,802.5 1012.2,787.5 1013.8,790.0 1015.2,780.0 1016.9,786.9 1018.5,773.8 1020.0,776.9 1021.2,770.0 1022.2,772.5 1023.8,804.4 1025.0,783.8 1026.0,794.4 1028.1,765.0 1029.8,767.5 1031.2,762.5 1032.5,763.8 1034.4,773.1 1036.0,780.0 1037.2,770.0 1038.5,785.0 1039.0,810.0 1040.0,835.0 1041.0,815.0 1042.5,812.5 1043.5,790.0 1045.0,791.2 1046.0,778.8 1047.5,790.0 1048.5,787.5 1049.4,805.0 1050.2,833.8 1051.9,806.2 1052.8,812.5 1054.0,796.2 1054.8,815.0 1056.0,837.5 1056.9,853.8 1058.1,860.6 1059.4,843.1 1060.6,856.2 1061.5,843.1 1062.8,865.0 1063.8,842.5 1065.6,842.5 1066.2,826.2 1067.2,825.0 1068.5,819.4 1069.8,827.5 1071.0,840.0 1071.9,853.8 1072.8,856.2 1073.5,870.0 1074.5,896.2 1075.6,870.0 1077.2,870.6 1079.0,866.9 1079.8,875.0 1080.3,893.0 1080.8,906.5 1082.2,907.5 1082.2,924.2 1083.1,925.2 1083.1,951.0 1084.0,959.6 1084.2,1009.6 1085.2,1008.5 1085.8,961.7 1087.3,1014.8 1088.4,1013.5 1089.4,970.0 1090.4,969.0 1090.6,931.5 1092.3,930.4 1092.6,919.0 1093.5,918.0 1093.9,943.0 1094.6,942.0 1095.3,880.4 1096.5,888.8 1097.5,905.0 1098.8,961.7 1100.1,911.7 1101.1,879.4 1101.9,878.1 1103.1,850.0 1104.4,820.0 1105.2,803.8 1106.5,813.8 1107.5,823.8 1108.8,816.2 1110.0,830.0 1111.0,840.0 1111.9,865.0 1113.1,831.2 1114.4,815.0 1115.6,802.5 1116.5,791.2 1117.8,820.0 1118.8,778.8 1120.6,791.2 1122.2,780.0 1123.1,797.5 1124.0,827.5 1125.2,796.2 1126.5,797.5 1127.8,813.8 1129.4,798.8 1131.0,799.4 1132.5,803.8 1133.5,830.0 1134.4,859.4 1135.6,840.0 1136.9,839.4 1138.1,821.2 1139.4,817.5 1141.0,806.9 1141.9,820.0 1143.1,837.5 1144.4,862.5 1145.2,882.5 1146.2,912.5 1147.5,886.2 1148.8,931.2 1150.0,902.5 1152.5,895.6 1153.5,917.5 1154.5,927.5 1155.6,912.5 1156.9,898.8 1158.8,886.2 1160.0,880.0 1161.9,878.8 1162.8,869.4 1163.5,885.6 1165.0,870.0 1166.2,862.5 1167.5,857.5 1169.0,858.8 1170.2,855.6 1171.5,856.9 1172.8,845.6 1174.0,861.2 1175.2,888.1 1176.5,859.4 1178.1,873.8 1179.8,860.6 1181.0,873.8 1182.8,876.2 1183.8,892.5 1185.0,910.6 1186.0,892.5 1187.2,883.1 1188.5,895.0 1189.8,892.5 1189.8,923.8 1190.6,977.5 1191.9,943.1 1193.1,943.1 1194.0,957.5 1195.0,950.0 1196.5,967.5 1197.5,937.5 1198.8,921.9 1200.2,932.5 1201.9,955.0 1202.8,920.0 1204.0,936.9 1205.6,913.8 1206.9,900.0 1208.1,891.9 1209.0,894.4 1210.0,882.5 1211.5,881.2 1212.8,887.5 1213.5,870.0 1214.8,868.1 1216.2,887.5 1217.5,883.1 1219.0,885.0 1220.2,907.5 1221.9,917.5 1223.1,916.9 1223.8,903.8 1225.0,898.8 1226.0,906.2 1226.5,893.1 1227.8,900.0 1228.8,887.5 1229.4,878.1 1231.0,877.5 1231.5,884.4 1232.8,863.8 1234.4,868.8 1236.0,867.5 1237.5,885.0 1238.5,903.1 1239.8,885.0 1241.2,883.8 1242.5,878.8 1243.8,876.2 1245.0,867.5 1246.5,852.5 1248.1,850.6 1249.4,851.2 1250.6,843.1 1251.9,838.8 1252.8,845.0 1253.8,835.0 1255.0,845.6 1256.2,829.4 1256.9,808.8 1258.5,810.6 1259.5,831.9 1261.0,823.8 1262.5,832.5 1263.8,817.5 1264.8,808.1 1266.2,811.2 1268.1,816.2 1269.0,827.5 1270.2,803.1 1271.2,805.0 1272.5,826.9 1273.1,806.2 1274.0,791.2 1275.6,787.5 1276.9,777.5 1278.1,778.8 1279.0,788.8 1280.0,768.8 1281.9,768.1 1283.1,768.8 1284.0,787.5 1284.8,801.9 1285.2,781.2 1286.2,770.0 1287.8,764.4 1289.4,766.2 1290.6,761.2 1291.9,766.9 1293.1,770.0 1294.4,773.1 1295.6,770.0 1296.9,762.5 1298.1,755.6 1299.8,751.9 1301.5,750.6 1303.1,752.5 1303.8,778.1 1304.8,760.0 1306.0,752.5 1307.5,756.2 1308.8,756.2 1309.8,775.0 1310.8,801.2 1311.9,775.0 1312.5,756.2 1313.1,743.8 1314.4,735.0 1315.6,728.8 1316.5,738.8 1317.8,714.4 1319.0,735.0 1320.0,732.5 1321.2,720.0 1322.5,702.5 1323.5,687.5 1324.8,680.6 1325.6,700.0 1326.9,710.0 1328.1,692.5 1329.4,706.2 1330.6,688.8 1331.9,705.0 1333.5,691.2 1334.8,700.0 1336.2,701.9 1337.5,705.0 1338.5,727.5 1339.4,705.0 1340.6,705.0 1341.9,711.2 1342.8,718.8 1343.5,745.0 1343.5,763.8 1344.4,767.5 1345.6,750.0 1346.9,774.4 1347.8,750.0 1348.8,730.0 1350.0,712.5 1351.0,708.1 1351.9,716.2 1353.1,712.5 1354.4,727.5 1355.2,718.1 1356.9,719.4 1357.5,737.5 1358.1,770.0 1359.0,783.1 1360.2,765.0 1361.5,779.4 1362.5,752.5 1363.8,730.0 1365.0,712.5 1365.6,704.4 1366.9,703.8 1368.1,694.4 1369.4,708.8 1370.6,718.1 1371.9,706.2 1372.8,703.8 1374.4,715.0 1375.6,713.8 1376.5,699.4 1377.5,688.1 1379.0,691.2 1380.6,690.0 1381.9,697.5 1383.1,723.8 1384.0,697.5 1385.0,698.8 1386.2,710.0 1387.2,712.5 1388.5,731.9 1389.4,707.5 1390.6,697.5 1391.5,703.8 1392.5,691.2 1393.5,683.8 1395.0,685.0 1396.5,680.6 1397.5,687.5 1398.8,681.2 1399.8,663.8 1400.6,655.0 1401.9,658.8 1403.1,666.2 1405.0,678.1 1406.2,665.6 1407.8,666.2 1408.8,680.0 1410.0,668.8 1411.5,664.4 1412.8,663.8 1413.8,671.2 1414.8,662.5 1416.0,656.2 1417.2,663.8 1418.5,670.6 1420.0,670.6 1421.2,658.8 1422.8,653.8 1424.4,648.1 1426.0,647.5 1427.2,653.8 1428.5,640.0 1430.0,637.5 1431.2,633.1 1432.5,635.6 1434.0,629.4 1435.6,637.5 1436.2,665.0 1436.2,692.5 1437.5,695.0 1439.4,689.4 1440.2,697.5 1441.0,725.0 1443.1,706.2 1444.0,720.0 1444.8,735.6 1446.0,717.5 1447.5,715.0 1449.0,711.2 1450.2,713.8 1451.2,731.2 1452.2,712.5 1453.5,702.5 1455.0,716.2 1456.2,707.5 1457.2,694.4 1458.5,706.2 1459.8,700.0 1461.0,701.2 1461.5,731.2 1462.5,766.2 1464.0,731.2 1465.6,766.2 1466.9,745.0 1468.1,772.5 1469.4,809.4 1470.6,780.0 1471.5,762.5 1472.8,743.8 1474.4,731.2 1475.6,720.6 1476.5,728.8 1477.8,716.2 1479.4,710.0 1481.2,696.2 1482.8,706.2 1484.4,722.5 1485.2,734.4 1486.5,718.8 1487.8,700.0 1489.0,688.8 1490.2,692.5 1491.5,680.6 1492.5,700.0 1493.5,725.6 1494.8,707.5 1496.0,712.5 1497.2,691.9 1498.5,721.2 1499.4,692.5 1500.6,677.5 1502.2,667.5 1503.8,651.9 1505.2,665.0 1506.5,637.5 1508.1,638.8 1509.8,619.4 1511.0,627.5 1512.8,605.6 1513.8,625.0 1514.0,667.5 1515.0,668.8 1515.6,725.0 1516.0,825.0 1517.2,712.5 1518.1,662.5 1518.8,612.5 1519.8,600.0 1519.8,562.5 1519.8,535.0 1521.5,533.8 1521.5,563.8 1522.2,512.5 1523.1,500.0 1524.0,466.9 1525.2,468.8 1526.2,503.1 1527.2,480.0 1528.8,465.0 1530.0,482.5 1531.2,462.5 1532.2,450.0 1533.1,435.6 1534.0,452.5 1534.8,528.8 1536.0,505.0 1537.2,475.6 1538.1,500.0 1539.0,542.5 1540.0,515.0 1541.0,485.0 1542.2,476.2 1543.8,478.8 1545.0,455.6 1546.2,457.5 1547.8,453.1 1548.5,489.4 1549.8,468.8 1551.0,470.0 1551.9,510.0 1553.1,483.8 1554.8,498.8 1556.0,468.8 1557.2,466.2 1558.1,487.5 1559.0,532.5 1560.0,512.5 1561.5,516.2 1563.1,513.8 1564.4,511.2 1565.6,500.0 1566.9,511.2 1568.1,522.5 1569.4,529.4 1570.6,512.5 1572.2,520.0 1573.5,537.5 1575.0,551.2 1576.2,522.5 1577.5,506.2 1579.0,503.8 1580.0,545.6 1581.0,512.5 1582.2,505.0 1583.1,494.4 1584.0,512.5 1585.2,522.5 1586.0,556.2 1586.0,588.8 1587.2,590.0 1587.8,557.5 1588.8,575.0 1589.5,625.6 1591.0,625.6 1592.5,570.0 1593.8,597.5 1595.0,605.0 1595.2,653.8 1596.5,710.0 1598.1,710.0 1600.0,684.4 1600.8,737.5 1601.2,745.6 1603.1,736.9 1604.4,735.0 1605.0,693.8 1606.9,644.4 1608.1,675.0 1608.8,703.8 1610.0,702.5 1611.2,725.0 1612.5,766.2 1613.8,718.8 1614.8,710.0 1616.0,717.5 1616.9,677.5 1617.8,661.2 1619.0,675.0 1620.6,708.8 1621.9,682.5 1623.8,656.2 1625.6,633.8 1626.9,652.5 1628.8,683.8 1630.2,661.2 1632.2,636.2 1633.1,655.6 1635.0,643.8 1636.2,652.5 1637.5,631.2 1638.8,610.0 1640.6,590.0 1641.9,576.9 1642.9,592.1 1644.3,620.2 1645.6,605.6 1646.9,620.2 1648.4,633.8 1649.8,659.8 1651.0,642.1 1652.1,671.8 1653.1,654.6 1654.2,614.0 1655.7,620.2 1656.8,591.0 1657.8,576.9 1659.4,576.2 1659.4,597.5 1660.6,565.0 1661.9,553.8 1663.5,552.5 1664.8,542.5 1666.2,535.0 1667.8,520.0 1669.0,537.5 1670.2,565.0 1671.5,580.0 1672.5,545.0 1673.5,535.0 1674.8,541.2 1676.0,521.2 1677.2,517.5 1678.8,500.0 1679.8,515.0 1680.6,535.0 1681.5,580.0 1682.5,537.5 1683.5,511.2 1684.8,537.5 1686.0,515.0 1686.9,501.2 1688.5,487.5 1690.0,486.2 1691.2,471.2 1692.5,481.2 1694.0,466.2 1695.2,472.5 1696.0,497.5 1696.9,503.8 1698.1,495.0 1699.0,475.0 1700.6,478.8 1701.9,465.0 1702.8,483.8 1703.8,537.5 1704.4,558.1 1705.2,545.0 1706.2,537.5"/>
<!-- average line -->
<line x1="187.5" y1="747.8" x2="1704" y2="747.8" stroke="#e08793" stroke-width="1.45" stroke-dasharray="4.2 3.8" stroke-dashoffset="6.94"/>
<!-- text -->
<text y="89.20" font-size="30.0" fill="#111111"><tspan x="155.47" textLength="92.72" lengthAdjust="spacingAndGlyphs">Market</tspan> <tspan x="255.33" textLength="50.96" lengthAdjust="spacingAndGlyphs">and</tspan> <tspan x="312.78" textLength="132.95" lengthAdjust="spacingAndGlyphs">Economic</tspan> <tspan x="453.49" textLength="139.17" lengthAdjust="spacingAndGlyphs">Chartbook</tspan> <tspan x="600.89" textLength="7.97" lengthAdjust="spacingAndGlyphs">|</tspan> <tspan x="615.54" textLength="62.35" lengthAdjust="spacingAndGlyphs">April</tspan> <tspan x="682.70" textLength="25.08" lengthAdjust="spacingAndGlyphs">7,</tspan> <tspan x="712.78" textLength="63.40" lengthAdjust="spacingAndGlyphs">2025</tspan></text>
<text y="186.30" font-size="70.7" fill="#2f3a45"><tspan x="150.10" textLength="174.17" lengthAdjust="spacingAndGlyphs">Stock</tspan> <tspan x="341.72" textLength="217.14" lengthAdjust="spacingAndGlyphs">Market</tspan> <tspan x="574.31" textLength="540.82" lengthAdjust="spacingAndGlyphs">Price-to-Earnings</tspan> <tspan x="1131.83" textLength="162.88" lengthAdjust="spacingAndGlyphs">Ratio</tspan></text>
<text y="244.20" font-size="34.5" fill="#0a0a0a" font-style="italic"><tspan x="149.44" textLength="59.51" lengthAdjust="spacingAndGlyphs">S&amp;P</tspan> <tspan x="217.30" textLength="53.79" lengthAdjust="spacingAndGlyphs">500</tspan> <tspan x="280.01" textLength="119.00" lengthAdjust="spacingAndGlyphs">forward</tspan> <tspan x="408.77" textLength="51.67" lengthAdjust="spacingAndGlyphs">P/E</tspan> <tspan x="467.46" textLength="72.03" lengthAdjust="spacingAndGlyphs">ratio</tspan> <tspan x="548.22" textLength="81.20" lengthAdjust="spacingAndGlyphs">using</tspan> <tspan x="637.96" textLength="131.17" lengthAdjust="spacingAndGlyphs">earnings</tspan> <tspan x="778.74" textLength="148.60" lengthAdjust="spacingAndGlyphs">estimates</tspan> <tspan x="935.49" textLength="65.11" lengthAdjust="spacingAndGlyphs">over</tspan> <tspan x="1010.24" textLength="46.74" lengthAdjust="spacingAndGlyphs">the</tspan> <tspan x="1066.77" textLength="63.67" lengthAdjust="spacingAndGlyphs">next</tspan> <tspan x="1139.78" textLength="99.03" lengthAdjust="spacingAndGlyphs">twelve</tspan> <tspan x="1246.76" textLength="112.17" lengthAdjust="spacingAndGlyphs">months</tspan></text>
<text y="1201.70" font-size="20.6" fill="#41464b" font-style="italic"><tspan x="1495.70" textLength="52.46" lengthAdjust="spacingAndGlyphs">Latest</tspan> <tspan x="1553.92" textLength="41.76" lengthAdjust="spacingAndGlyphs">data</tspan> <tspan x="1600.00" textLength="44.23" lengthAdjust="spacingAndGlyphs">point</tspan> <tspan x="1649.88" textLength="12.43" lengthAdjust="spacingAndGlyphs">is</tspan> <tspan x="1668.18" textLength="29.18" lengthAdjust="spacingAndGlyphs">Apr</tspan> <tspan x="1702.96" textLength="15.19" lengthAdjust="spacingAndGlyphs">1,</tspan> <tspan x="1721.40" textLength="40.67" lengthAdjust="spacingAndGlyphs">2025</tspan></text>
<text y="1347.60" font-size="21.9" fill="#000000"><tspan x="1546.25" textLength="86.26" lengthAdjust="spacingAndGlyphs">Sources:</tspan> <tspan x="1637.07" textLength="131.72" lengthAdjust="spacingAndGlyphs">Clearnomics,</tspan></text>
<text y="1373.80" font-size="21.9" fill="#000000"><tspan x="1714.81" textLength="53.11" lengthAdjust="spacingAndGlyphs">LSEG</tspan></text>
<text y="1402.00" font-size="19" fill="#929292"><tspan x="1577.27" textLength="12.96" lengthAdjust="spacingAndGlyphs">©</tspan> <tspan x="1594.74" textLength="36.53" lengthAdjust="spacingAndGlyphs">2025</tspan> <tspan x="1635.95" textLength="105.59" lengthAdjust="spacingAndGlyphs">Clearnomics,</tspan> <tspan x="1742.03" textLength="30.18" lengthAdjust="spacingAndGlyphs">Inc.</tspan></text>
<text y="326.30" font-size="22.5" fill="#c25a5e"><tspan x="645.30" textLength="47.53" lengthAdjust="spacingAndGlyphs">Tech</tspan> <tspan x="697.00" textLength="72.09" lengthAdjust="spacingAndGlyphs">Bubble</tspan> <tspan x="774.15" textLength="48.38" lengthAdjust="spacingAndGlyphs">Peak</tspan></text>
<text y="1051.30" font-size="22.5" fill="#6a8f72"><tspan x="988.70" textLength="92.59" lengthAdjust="spacingAndGlyphs">Financial</tspan> <tspan x="1085.48" textLength="54.95" lengthAdjust="spacingAndGlyphs">Crisis</tspan> <tspan x="1144.03" textLength="41.80" lengthAdjust="spacingAndGlyphs">Low</tspan></text>
<text y="115.20" font-size="30.3" fill="#2d3640"><tspan x="1533.17" textLength="94.40" lengthAdjust="spacingAndGlyphs" font-weight="bold" fill="#2d3640">CLEAR</tspan><tspan x="1628.06" textLength="118.24" lengthAdjust="spacingAndGlyphs" fill="#2b90bf" stroke="#2b90bf" stroke-width="0.4">NOMICS</tspan></text>
<text transform="translate(119.70,916.70) rotate(-90)" font-size="24.2" fill="#45494d"><tspan x="-1.09" textLength="42.11" lengthAdjust="spacingAndGlyphs">S&amp;P</tspan> <tspan x="49.03" textLength="39.33" lengthAdjust="spacingAndGlyphs">500</tspan> <tspan x="94.67" textLength="90.26" lengthAdjust="spacingAndGlyphs">Forward</tspan> <tspan x="190.48" textLength="189.18" lengthAdjust="spacingAndGlyphs">Price-to-Earnings</tspan> <tspan x="385.47" textLength="57.24" lengthAdjust="spacingAndGlyphs">Ratio</tspan></text>
<text transform="translate(171.65,1089.85) scale(1.0455,1)" font-size="23.3" fill="#33393f">8</text>
<text transform="translate(157.86,1004.29) scale(1.0538,1)" font-size="23.3" fill="#33393f">10</text>
<text transform="translate(157.84,918.73) scale(1.0652,1)" font-size="23.3" fill="#33393f">12</text>
<text transform="translate(157.88,833.17) scale(1.0426,1)" font-size="23.3" fill="#33393f">14</text>
<text transform="translate(157.84,747.61) scale(1.0652,1)" font-size="23.3" fill="#33393f">16</text>
<text transform="translate(157.84,662.05) scale(1.0652,1)" font-size="23.3" fill="#33393f">18</text>
<text transform="translate(158.41,576.49) scale(1.0316,1)" font-size="23.3" fill="#33393f">20</text>
<text transform="translate(158.40,490.93) scale(1.0426,1)" font-size="23.3" fill="#33393f">22</text>
<text transform="translate(158.42,405.37) scale(1.0208,1)" font-size="23.3" fill="#33393f">24</text>
<text transform="translate(158.40,319.81) scale(1.0426,1)" font-size="23.3" fill="#33393f">26</text>
<text transform="translate(346.39,1124.20) scale(1.0606,1)" font-size="23.5" fill="#33393f">1990</text>
<text transform="translate(535.18,1124.20) scale(1.0606,1)" font-size="23.5" fill="#33393f">1995</text>
<text transform="translate(724.51,1124.20) scale(1.0500,1)" font-size="23.5" fill="#33393f">2000</text>
<text transform="translate(913.29,1124.20) scale(1.0500,1)" font-size="23.5" fill="#33393f">2005</text>
<text transform="translate(1102.08,1124.20) scale(1.0500,1)" font-size="23.5" fill="#33393f">2010</text>
<text transform="translate(1290.86,1124.20) scale(1.0500,1)" font-size="23.5" fill="#33393f">2015</text>
<text transform="translate(1479.65,1124.20) scale(1.0500,1)" font-size="23.5" fill="#33393f">2020</text>
<text transform="translate(1668.43,1124.20) scale(1.0500,1)" font-size="23.5" fill="#33393f">2025</text>
<text transform="translate(707.10,356.70) scale(0.9607,1)" font-size="22.5" fill="#c25a5e">24.5x</text>
<text transform="translate(325.42,640.00) scale(1.0446,1)" font-size="22.6" fill="#30363c">Historical</text>
<text transform="translate(334.16,670.60) scale(0.9539,1)" font-size="22.6" fill="#30363c">Average</text>
<text transform="translate(347.07,702.25) scale(0.9624,1)" font-size="22.6" fill="#30363c">15.8x</text>
<text transform="translate(1067.34,1082.00) scale(0.9624,1)" font-size="22.5" fill="#6a8f72">9.5x</text>
<text transform="translate(1710.39,488.00) scale(1.0062,1)" font-size="24.5" fill="#30363c">Latest</text>
<text transform="translate(1714.37,521.70) scale(0.9837,1)" font-size="24.5" fill="#30363c">20.7x</text>
</svg>
</body>
</html>
